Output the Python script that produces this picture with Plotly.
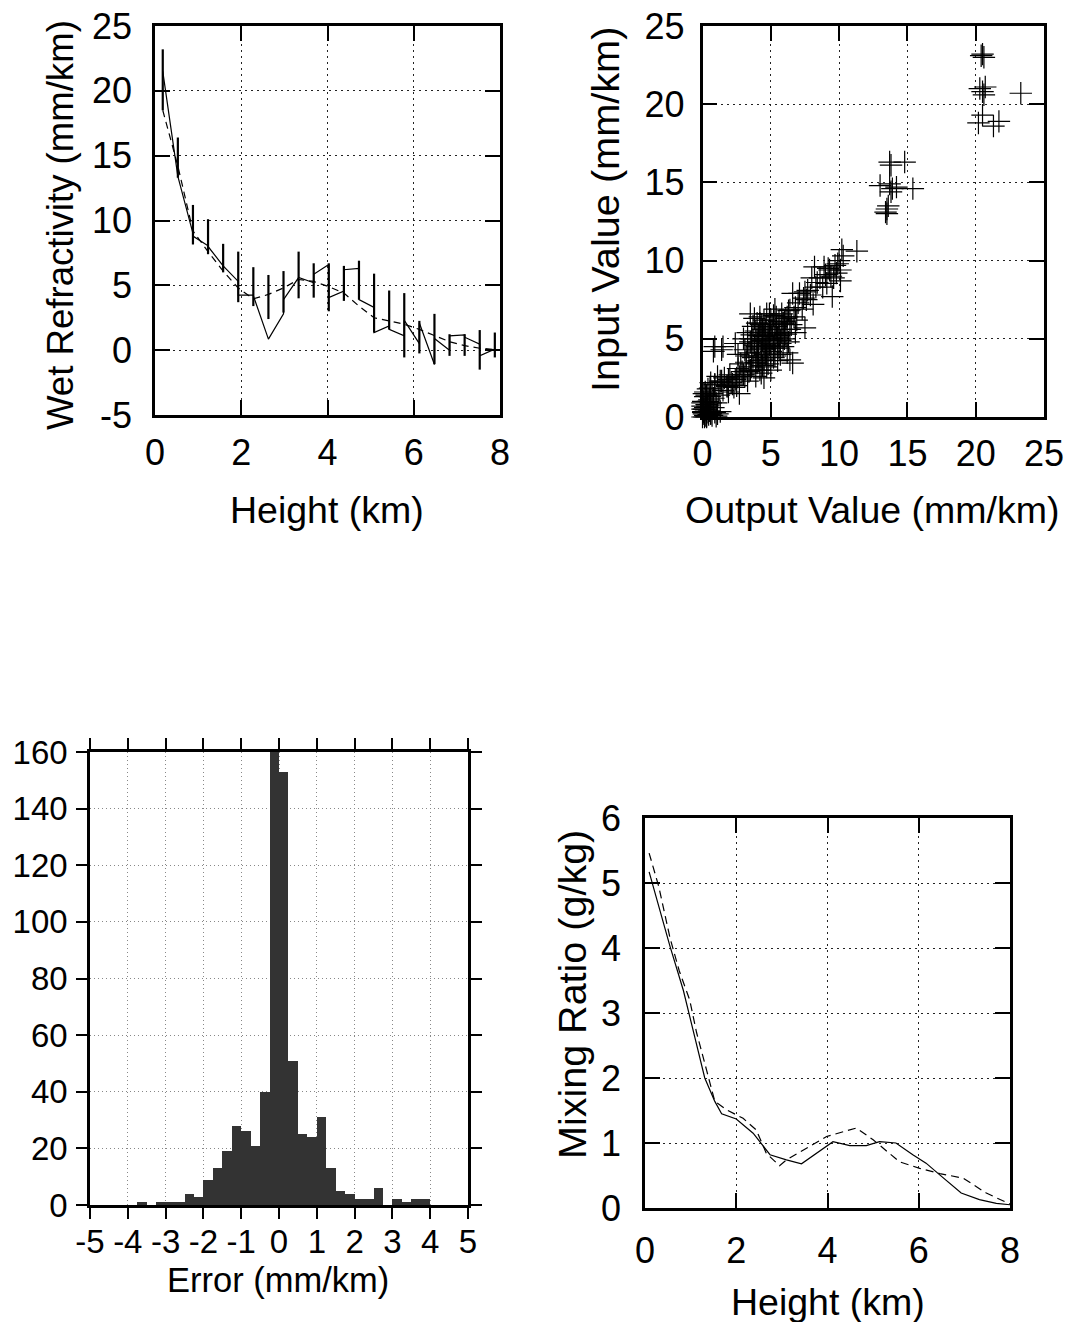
import plotly.graph_objects as go

W, H = 1073, 1322
FONT = "Liberation Sans, Arial, sans-serif"

# ---------------- Panel 1: wet refractivity profile ----------------
heights = [0.18, 0.53, 0.88, 1.23, 1.58, 1.93, 2.28, 2.63, 2.98, 3.33, 3.68, 4.03,
           4.38, 4.73, 5.08, 5.43, 5.78, 6.13, 6.48, 6.83, 7.18, 7.53, 7.88]
retr_in = [None, 13.4, 9.0, 8.05, 6.5, 5.3, 4.25, 0.85, 2.8, 5.6, 5.2, 6.6,
           4.56, 6.3, 3.3, 1.87, 1.1, 0.5, -1.1, 0.0, 1.18, 0.46, 0.08]
retr_out = [21.5, 13.4, 8.8, 8.0, 6.5, 4.25, 4.2, 0.85, 3.9, 5.6, 5.85, 4.05,
            6.2, 3.9, 1.36, 1.6, 2.3, 2.1, 0.9, 1.1, 1.0, -0.44, 0.1]
err_low = [18.5, 13.3, 8.15, 7.4, 6.0, 3.7, 3.4, 2.4, 2.9, 4.0, 4.05, 3.0,
           3.8, 3.9, 1.36, 1.6, -0.56, -0.25, -1.08, -0.44, -0.44, -1.5, -0.56]
err_high = [23.2, 16.4, 11.2, 10.1, 8.2, 7.6, 6.4, 5.8, 6.1, 7.6, 6.7, 6.7,
            6.5, 6.9, 5.9, 4.6, 4.4, 2.26, 2.8, 1.23, 1.23, 1.55, 1.36]
truth_wet = [18.5, 14.2, 9.2, 7.6, 6.1, 4.8, 3.95, 4.3, 4.8, 5.45, 5.3, 4.9,
             4.4, 3.4, 2.5, 2.25, 2.0, 1.6, 1.1, 0.65, 0.35, 0.15, 0.05]
wet_yticks = [-5, 0, 5, 10, 15, 20, 25]
wet_yticktext = ["-5", "0", "5", "10", "15", "20", "25"]
height_ticks = [0, 2, 4, 6, 8]

# ---------------- Panel 2: scatter output vs input ----------------
scatter_upper = [(20.5, 23.2), (20.6, 23.0), (20.4, 23.1), (20.3, 21.0), (20.7, 21.1),
                 (20.5, 20.8), (20.6, 20.6), (23.3, 20.7), (20.2, 18.8), (20.5, 19.3),
                 (21.3, 18.6), (21.7, 18.9)]
scatter_middle = [(13.7, 16.3), (14.8, 16.3), (13.8, 16.1), (13.0, 14.8), (13.7, 14.9),
                  (14.2, 14.7), (15.4, 14.6), (13.8, 14.4), (13.9, 14.6), (13.5, 13.3),
                  (13.4, 13.1), (13.6, 13.5), (13.5, 13.0)]
scatter_high = [(10.2, 10.7), (11.3, 10.6), (9.9, 9.8), (10.1, 9.4), (8.2, 9.6),
                (9.3, 9.4), (9.8, 9.2), (9.6, 8.9), (9.1, 8.55), (10.1, 8.7),
                (8.3, 8.3), (9.5, 7.7), (6.6, 7.9), (7.5, 8.0), (7.6, 7.5),
                (8.1, 7.2), (7.3, 6.9), (6.4, 6.85), (6.2, 6.4), (6.9, 6.2),
                (7.5, 5.7), (6.4, 5.6), (5.9, 6.0), (8.6, 8.9), (8.8, 8.3),
                (9.0, 9.1), (9.4, 9.0), (10.0, 10.0), (8.0, 8.9), (7.1, 7.9),
                (7.7, 8.1), (7.9, 7.8), (8.4, 8.6), (9.2, 9.5), (7.0, 7.3),
                (6.8, 7.0), (7.4, 7.6), (8.9, 9.6), (9.7, 9.7), (10.3, 10.3)]
scatter_core = [(5.2, 6.5), (4.7, 6.6), (4.2, 6.4), (4.0, 6.0), (4.9, 5.8), (5.4, 5.4),
                (4.5, 5.15), (3.6, 5.25), (3.0, 5.0), (2.4, 4.7), (1.5, 4.5), (0.8, 4.2),
                (4.0, 4.7), (4.7, 4.5), (5.7, 4.7), (6.2, 4.1), (6.4, 3.65), (6.6, 3.45),
                (5.3, 3.9), (4.3, 4.1), (3.6, 3.9), (4.0, 3.45), (4.7, 3.2), (4.3, 2.8),
                (3.5, 3.0), (3.0, 2.7), (3.2, 3.5), (3.4, 4.1), (3.6, 3.2), (3.8, 4.6),
                (4.0, 3.9), (4.1, 5.2), (4.3, 4.4), (4.5, 3.7), (4.6, 5.6), (4.8, 4.9),
                (5.0, 4.2), (5.1, 5.9), (5.3, 5.3), (5.5, 4.6), (5.6, 6.1), (5.8, 5.4),
                (6.0, 5.0), (6.1, 6.3), (3.5, 4.8), (3.9, 5.5), (4.2, 6.0), (4.4, 3.3),
                (4.7, 4.0), (4.9, 5.7), (5.2, 3.8), (5.4, 6.4), (5.7, 4.9), (5.9, 6.0),
                (3.3, 5.4), (3.7, 3.8), (4.0, 4.5), (4.2, 3.0), (4.5, 5.0), (4.8, 3.4),
                (5.0, 6.2), (5.3, 4.7), (5.6, 5.2), (6.2, 5.6), (3.1, 4.3), (3.4, 2.9),
                (3.6, 5.0), (3.9, 3.5), (4.1, 4.8), (4.4, 5.6), (4.6, 4.3), (4.9, 4.6),
                (5.1, 5.0), (5.4, 5.8), (5.6, 4.4), (5.8, 6.6), (6.0, 6.1), (6.3, 6.8),
                (4.5, 6.2), (3.8, 6.3), (5.5, 5.1), (4.3, 5.9), (5.0, 5.5), (4.6, 4.0),
                (3.3, 4.7), (3.7, 5.8), (4.1, 3.6), (4.4, 4.9), (4.8, 5.3), (5.2, 4.4),
                (5.5, 3.6), (5.9, 4.5), (6.1, 5.3), (6.5, 5.9), (6.7, 6.4), (3.2, 3.9),
                (2.8, 3.4), (2.6, 4.0), (3.9, 2.6), (4.5, 2.5), (5.0, 3.0), (5.7, 4.0),
                (6.3, 4.8), (6.8, 5.4), (4.2, 5.4), (4.9, 6.6), (5.3, 6.9), (3.5, 6.6)]
scatter_low = [(3.5, 3.0), (3.0, 2.7), (2.5, 2.5), (1.9, 2.4), (1.4, 2.3), (0.9, 2.05),
               (0.55, 1.85), (0.2, 1.6), (2.7, 1.5), (1.8, 1.95), (0.55, 1.3), (0.05, 1.0),
               (0.0, 0.7), (0.06, 0.35), (0.6, 0.25), (1.3, 0.35), (0.3, 0.05), (1.0, 0.05),
               (2.1, 2.2), (1.6, 2.5), (2.4, 2.4), (2.0, 2.7), (2.7, 2.6), (2.3, 1.9),
               (2.9, 2.9), (2.6, 3.1), (1.1, 2.6), (0.6, 2.2), (1.9, 1.6), (2.5, 2.0),
               (3.1, 2.6), (3.3, 2.3), (1.2, 1.4), (0.4, 1.8), (1.5, 1.7), (0.9, 2.1),
               (1.8, 2.0), (1.3, 2.3), (0.7, 1.5), (2.2, 2.1), (1.4, 4.3), (0.9, 4.5)]
scatter_origin = [(0.2, 0.1), (0.4, 0.3), (0.1, 0.5), (0.6, 0.2), (0.3, 0.8), (0.8, 0.6),
                  (0.5, 1.1), (1.0, 0.9), (0.2, 1.3), (0.0, 0.0), (0.1, 0.2), (0.3, 0.0),
                  (0.5, 0.4), (0.2, 0.6), (0.7, 0.1), (0.0, 0.9), (0.4, 1.0), (0.9, 0.3),
                  (0.1, 1.5), (0.6, 0.9), (0.3, 1.4), (0.8, 1.2), (1.1, 0.2), (0.05, 0.3),
                  (0.25, 0.45), (0.15, 0.0), (0.45, 0.15), (0.35, 0.7), (0.0, 0.5), (0.5, -0.1)]
value_ticks = [0, 5, 10, 15, 20, 25]

# ---------------- Panel 3: error histogram ----------------
bin_left = [-3.75, -3.5, -3.25, -3.0, -2.75, -2.5, -2.25, -2.0, -1.75, -1.5, -1.25,
            -1.0, -0.75, -0.5, -0.25, 0.0, 0.25, 0.5, 0.75, 1.0, 1.25, 1.5, 1.75,
            2.0, 2.25, 2.5, 2.75, 3.0, 3.25, 3.5, 3.75]
bin_counts = [1, 0, 1, 1, 1, 4, 3, 9, 13, 19, 28, 26, 21, 40, 160, 153, 51, 25, 24,
              31, 13, 5, 4, 2, 2, 6, 0, 2, 1, 2, 2]
bin_width = 0.25
err_ticks = [-5, -4, -3, -2, -1, 0, 1, 2, 3, 4, 5]
err_ticktext = ["-5", "-4", "-3", "-2", "-1", "0", "1", "2", "3", "4", "5"]
count_ticks = [0, 20, 40, 60, 80, 100, 120, 140, 160]

# ---------------- Panel 4: mixing ratio ----------------
mix_h_retr = [0.09, 0.55, 0.84, 1.0, 1.31, 1.53, 1.68, 2.0, 2.37, 2.74, 3.1, 3.43, 3.83,
              4.12, 4.49, 4.85, 5.14, 5.5, 5.87, 6.16, 6.46, 6.93, 7.33, 7.7, 8.0]
mix_retr = [5.17, 4.02, 3.35, 2.9, 2.0, 1.64, 1.45, 1.37, 1.15, 0.82, 0.74, 0.68, 0.87,
            1.02, 0.96, 0.96, 1.02, 1.0, 0.82, 0.69, 0.51, 0.23, 0.13, 0.07, 0.05]
mix_h_true = [0.09, 0.3, 0.55, 0.75, 0.98, 1.13, 1.35, 1.53, 1.79, 2.15, 2.44, 2.66,
              2.95, 3.1, 3.54, 3.98, 4.63, 5.0, 5.58, 6.02, 6.46, 6.97, 7.48, 8.0]
mix_true = [5.46, 4.95, 4.15, 3.65, 3.2, 2.7, 2.12, 1.64, 1.51, 1.38, 1.2, 0.84,
            0.65, 0.74, 0.92, 1.1, 1.23, 1.05, 0.71, 0.61, 0.53, 0.46, 0.23, 0.06]
mix_ticks = [0, 1, 2, 3, 4, 5, 6]

# ---------------- build traces ----------------
fig = go.Figure()

# panel 1: retrieved line with jumps at each level
lx, ly = [], []
for h, a, b in zip(heights, retr_in, retr_out):
    if a is not None:
        lx.append(h)
        ly.append(a)
    lx.append(h)
    ly.append(b)
fig.add_trace(go.Scatter(x=lx, y=ly, mode="lines", line=dict(color="black", width=1.2),
                         xaxis="x", yaxis="y", showlegend=False))
fig.add_trace(go.Scatter(x=heights, y=truth_wet, mode="lines",
                         line=dict(color="black", width=1.2, dash="7px,5px"),
                         xaxis="x", yaxis="y", showlegend=False))
bx, by = [], []
for h, lo, hi in zip(heights, err_low, err_high):
    bx += [h, h, None]
    by += [lo, hi, None]
fig.add_trace(go.Scatter(x=bx, y=by, mode="lines", line=dict(color="black", width=2.2),
                         xaxis="x", yaxis="y", showlegend=False))

# panel 2: scatter
all_pts = scatter_upper + scatter_middle + scatter_high + scatter_core + scatter_low + scatter_origin
fig.add_trace(go.Scatter(x=[p[0] for p in all_pts], y=[p[1] for p in all_pts], mode="markers",
                         marker=dict(symbol="cross-thin", size=16, color="black",
                                     line=dict(color="black", width=1.2)),
                         cliponaxis=False, xaxis="x2", yaxis="y2", showlegend=False))

# panel 3: histogram
fig.add_trace(go.Bar(x=bin_left, y=bin_counts, width=bin_width, offset=0,
                     marker=dict(color="#333333", line=dict(width=0)),
                     xaxis="x3", yaxis="y3", showlegend=False))

# panel 4: mixing ratio
fig.add_trace(go.Scatter(x=mix_h_retr, y=mix_retr, mode="lines", line=dict(color="black", width=1.2),
                         xaxis="x4", yaxis="y4", showlegend=False))
fig.add_trace(go.Scatter(x=mix_h_true, y=mix_true, mode="lines",
                         line=dict(color="black", width=1.2, dash="8px,5px"),
                         xaxis="x4", yaxis="y4", showlegend=False))


def ax(domain, rng, tickvals, ticktext=None, ticks="inside", ticklen=15, size=36,
       gridcolor="#222222", griddash="2px,4px", standoff=None, anchor=None):
    d = dict(domain=domain, range=rng, tickmode="array", tickvals=tickvals,
             ticks=ticks, ticklen=ticklen, tickwidth=2.2, tickcolor="black",
             showline=True, linewidth=2.5, linecolor="black", mirror="ticks",
             showgrid=True, gridcolor=gridcolor, griddash=griddash, gridwidth=1,
             zeroline=False, tickfont=dict(family=FONT, size=size, color="black"),
             automargin=False, fixedrange=True, anchor=anchor)
    if ticktext is not None:
        d["ticktext"] = ticktext
    if standoff is not None:
        d["ticklabelstandoff"] = standoff
    return d


def fx(px):
    return px / W


def fy(py):
    return 1 - py / H


fig.update_layout(
    width=W, height=H, margin=dict(l=0, r=0, t=0, b=0),
    paper_bgcolor="white", plot_bgcolor="white", bargap=0,
    font=dict(family=FONT, color="black"),
    xaxis=ax([fx(155), fx(500)], [0, 8], height_ticks, anchor="y", standoff=4),
    yaxis=ax([fy(415), fy(26)], [-5, 25], wet_yticks, wet_yticktext, anchor="x", standoff=13),
    xaxis2=ax([fx(702.5), fx(1044)], [0, 25], value_ticks, anchor="y2", standoff=3),
    yaxis2=ax([fy(417), fy(26)], [0, 25], value_ticks, anchor="x2", standoff=8),
    xaxis3=ax([fx(90), fx(468)], [-5, 5], err_ticks, err_ticktext, ticks="outside", ticklen=11,
              size=33, gridcolor="#888888", griddash="1px,3px", anchor="y3", standoff=-5),
    yaxis3=ax([fy(1205), fy(752)], [0, 160], count_ticks, ticks="outside", ticklen=11,
              size=33, gridcolor="#888888", griddash="1px,3px", anchor="x3", standoff=2),
    xaxis4=ax([fx(645), fx(1010)], [0, 8], height_ticks, anchor="y4", standoff=9),
    yaxis4=ax([fy(1208), fy(818)], [0, 6], mix_ticks, anchor="x4", standoff=14),
)

titles = [
    ("Height (km)", 327, 510, 0, 37.5),
    ("Wet Refractivity (mm/km)", 60, 225, -90, 36.6),
    ("Output Value (mm/km)", 872, 510, 0, 37.5),
    ("Input Value (mm/km)", 605, 210, -90, 39.7),
    ("Error (mm/km)", 278, 1280, 0, 34.5),
    ("Mixing Ratio (g/kg)", 572, 995, -90, 39.5),
    ("Height (km)", 828, 1302, 0, 37.5),
]
for text, px, py, ang, sz in titles:
    fig.add_annotation(text=text, x=fx(px), y=fy(py), xref="paper", yref="paper",
                       xanchor="center", yanchor="middle", textangle=ang, showarrow=False,
                       font=dict(family=FONT, size=sz, color="black"))

fig.write_html("out.html")
